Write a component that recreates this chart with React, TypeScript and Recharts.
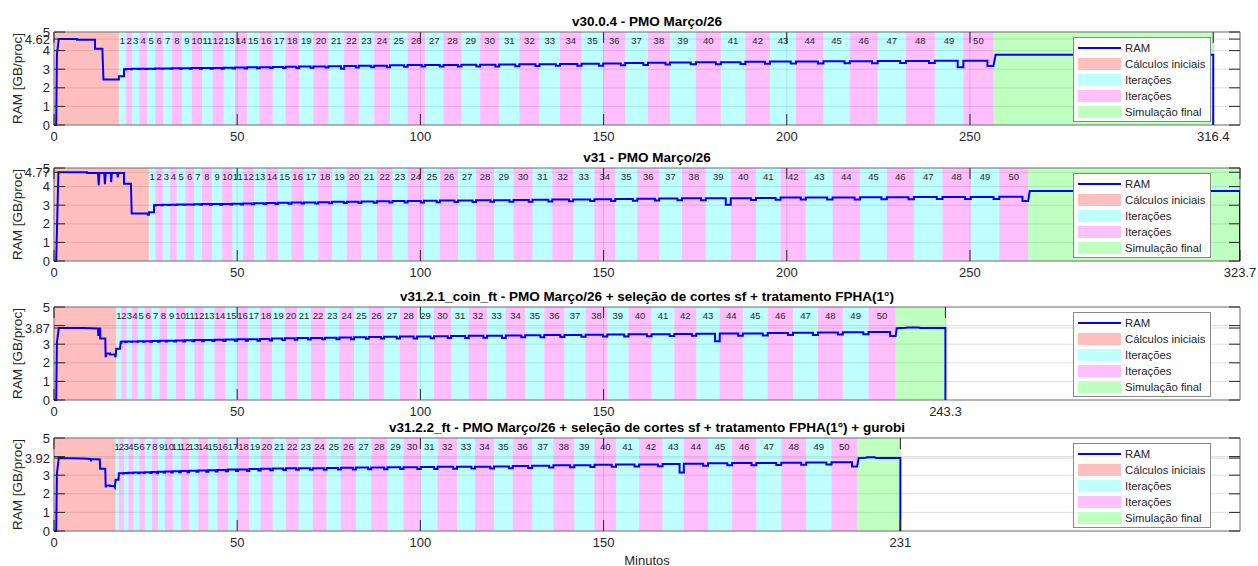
import React from 'react';
import { ComposedChart, Line, XAxis, YAxis, CartesianGrid, ReferenceArea, Legend } from 'recharts';

const FONT = '"Liberation Sans", Arial, sans-serif';
const INK = '#262626';
const X_MAX = 323.7;

// chart-space geometry of the plot box (same for every panel)
const PLOT_L = 54;
const PLOT_R = 1240;
const PLOT_T = 30;
const PLOT_B = 123;
const TICK = 11;
const DIP_FRAC = 0.2;

// ---- v30.0.4 ----
const p1Title = 'v30.0.4 - PMO Março/26';
const p1Start: [number, number][] = [
  [0, 0], [0.6, 0], [0.8, 3.8], [1.3, 4.62], [6.3, 4.62], [6.3, 4.58], [11.2, 4.58], [11.2, 4.1],
  [13.2, 4.1], [13.5, 2.45], [17.7, 2.45], [17.7, 2.62], [19.1, 2.62], [19.1, 3.0],
];
const p1Bounds = [
  17.7, 19.7, 21.3, 23.3, 25.4, 27.6, 29.8, 32.2, 34.9, 37.6, 40.4, 43.3, 46.3, 49.4, 52.7, 56.1, 59.7,
  63.2, 66.9, 70.8, 74.9, 79.2, 83.2, 87.4, 91.7, 96.5, 101.3, 106.3, 111.2, 116.3, 121.5, 127.0, 132.5,
  138.1, 144.0, 149.9, 155.9, 162.1, 168.1, 175.2, 182.0, 188.7, 195.4, 202.5, 210.0, 217.2, 224.8,
  232.5, 240.4, 248.2, 256.4,
];
const p1Levels = [
  3.00, 3.01, 3.02, 3.03, 3.03, 3.04, 3.04, 3.05, 3.05, 3.06,
  3.06, 3.07, 3.08, 3.09, 3.10, 3.11, 3.12, 3.13, 3.14, 3.15,
  3.16, 3.17, 3.18, 3.19, 3.21, 3.22, 3.23, 3.23, 3.24, 3.24,
  3.25, 3.26, 3.27, 3.28, 3.29, 3.31, 3.33, 3.35, 3.36, 3.37,
  3.38, 3.40, 3.41, 3.42, 3.43, 3.43, 3.44, 3.44, 3.45, 3.45,
];
const p1Dips = [
  0.01, 0.01, 0.01, 0.02, 0.02, 0.02, 0.02, 0.03, 0.03, 0.03,
  0.03, 0.04, 0.04, 0.05, 0.05, 0.05, 0.05, 0.06, 0.06, 0.06,
  0.14, 0.08, 0.07, 0.08, 0.08, 0.08, 0.08, 0.08, 0.09, 0.09,
  0.09, 0.09, 0.09, 0.10, 0.10, 0.10, 0.10, 0.10, 0.10, 0.10,
  0.10, 0.11, 0.11, 0.11, 0.11, 0.11, 0.11, 0.11, 0.35, 0.28,
];
const p1Final: [number, number][] = [[257.0, 3.78], [316.4, 3.78], [316.4, 0]];
const p1End = 316.4;
const p1Peak = 4.62;
const p1XTicks = [0, 50, 100, 150, 200, 250, 316.4];

// ---- v31 ----
const p2Title = 'v31 - PMO Março/26';
const p2Start: [number, number][] = [
  [0, 0], [0.6, 0], [1.2, 4.77], [9, 4.77], [9, 4.73], [12.0, 4.73], [12.2, 4.06], [12.4, 4.73],
  [13.7, 4.73], [13.9, 4.13], [14.1, 4.73], [15.5, 4.73], [15.6, 4.24], [15.8, 4.73], [17.3, 4.73],
  [17.4, 4.5], [17.6, 4.73], [19.1, 4.73], [19.1, 4.15], [21.0, 4.15], [21.2, 2.55], [25.5, 2.55],
  [25.6, 2.48], [25.9, 2.48], [25.9, 2.62], [27.3, 2.62], [27.3, 3.0],
];
const p2Bounds = [
  25.9, 27.7, 29.7, 31.7, 33.5, 35.9, 38.2, 40.4, 43.1, 45.9, 48.7, 51.6, 54.6, 57.9, 61.1, 64.8, 68.2,
  72.1, 75.9, 79.9, 83.9, 88.1, 92.4, 96.5, 101.0, 105.3, 110.3, 115.2, 120.1, 125.4, 130.6, 136.0,
  141.7, 147.5, 153.2, 159.2, 165.2, 171.4, 177.9, 184.7, 191.6, 198.3, 205.2, 212.5, 220.0, 227.3,
  234.7, 242.5, 250.2, 258.0, 265.9,
];
const p2Levels = [
  3.00, 3.01, 3.02, 3.03, 3.04, 3.04, 3.05, 3.06, 3.06, 3.07,
  3.08, 3.09, 3.10, 3.12, 3.13, 3.14, 3.15, 3.16, 3.18, 3.19,
  3.20, 3.21, 3.22, 3.23, 3.24, 3.25, 3.25, 3.26, 3.27, 3.28,
  3.29, 3.30, 3.31, 3.32, 3.34, 3.35, 3.36, 3.37, 3.38, 3.38,
  3.39, 3.41, 3.42, 3.42, 3.43, 3.43, 3.44, 3.44, 3.44, 3.45,
];
const p2Dips = [
  0.01, 0.01, 0.01, 0.02, 0.02, 0.02, 0.02, 0.03, 0.03, 0.03,
  0.04, 0.04, 0.04, 0.05, 0.05, 0.05, 0.06, 0.06, 0.06, 0.07,
  0.07, 0.07, 0.08, 0.08, 0.08, 0.08, 0.08, 0.08, 0.09, 0.09,
  0.09, 0.09, 0.09, 0.10, 0.10, 0.10, 0.10, 0.10, 0.35, 0.10,
  0.10, 0.11, 0.11, 0.11, 0.11, 0.11, 0.11, 0.11, 0.11, 0.22,
];
const p2Final: [number, number][] = [[266.3, 3.77], [323.7, 3.77], [323.7, 0]];
const p2End = 323.7;
const p2Peak = 4.77;
const p2XTicks = [0, 50, 100, 150, 200, 250, 323.7];

// ---- v31.2.1 ----
const p3Title = 'v31.2.1_coin_ft - PMO Março/26 + seleção de cortes sf + tratamento FPHA(1°)';
const p3Start: [number, number][] = [
  [0, 0], [0.6, 0], [0.8, 3.1], [1.3, 3.87], [8, 3.87], [12.0, 3.84], [12.1, 3.45], [12.3, 3.84],
  [12.6, 3.84], [12.6, 3.3], [14.0, 3.3], [14.1, 2.3], [14.3, 2.5], [15.3, 2.5], [15.3, 2.45],
  [16.6, 2.45], [16.8, 2.3], [17.0, 2.75], [18.0, 2.75], [18.2, 3.1],
];
const p3Bounds = [
  17.0, 18.4, 19.8, 21.3, 22.9, 24.7, 26.7, 28.8, 30.9, 33.3, 35.8, 38.3, 40.9, 43.8, 46.8, 50.0, 52.9,
  56.2, 59.5, 63.0, 66.4, 70.1, 74.0, 77.9, 81.9, 85.9, 90.1, 94.4, 99.1, 103.7, 108.4, 113.2, 118.2,
  123.3, 128.6, 133.8, 139.3, 145.1, 151.0, 156.8, 163.1, 169.3, 175.3, 181.7, 188.0, 194.8, 201.7,
  208.5, 215.3, 222.3, 229.7,
];
const p3Levels = [
  3.10, 3.14, 3.15, 3.15, 3.16, 3.16, 3.17, 3.18, 3.19, 3.20,
  3.21, 3.22, 3.23, 3.24, 3.25, 3.26, 3.27, 3.28, 3.30, 3.32,
  3.33, 3.34, 3.35, 3.36, 3.38, 3.39, 3.40, 3.41, 3.42, 3.43,
  3.44, 3.45, 3.46, 3.47, 3.48, 3.49, 3.50, 3.51, 3.52, 3.53,
  3.54, 3.55, 3.56, 3.57, 3.58, 3.60, 3.61, 3.63, 3.64, 3.66,
];
const p3Dips = [
  0.01, 0.02, 0.02, 0.02, 0.03, 0.03, 0.04, 0.04, 0.05, 0.05,
  0.05, 0.06, 0.06, 0.07, 0.07, 0.07, 0.08, 0.08, 0.08, 0.08,
  0.08, 0.08, 0.09, 0.09, 0.09, 0.09, 0.09, 0.10, 0.10, 0.10,
  0.10, 0.10, 0.12, 0.10, 0.10, 0.10, 0.10, 0.10, 0.10, 0.10,
  0.10, 0.10, 0.40, 0.11, 0.11, 0.11, 0.11, 0.11, 0.11, 0.22,
];
const p3Final: [number, number][] = [
  [230.0, 3.86], [232.5, 3.88], [233.0, 3.9], [236.0, 3.9], [236.5, 3.87], [243.3, 3.87], [243.3, 0],
];
const p3End = 243.3;
const p3Peak = 3.87;
const p3XTicks = [0, 50, 100, 150, 243.3];

// ---- v31.2.2 ----
const p4Title = 'v31.2.2_ft - PMO Março/26 + seleção de cortes sf + tratamento FPHA(1°) + gurobi';
const p4Start: [number, number][] = [
  [0, 0], [0.6, 0], [0.8, 3.1], [1.3, 3.92], [8, 3.9], [10.0, 3.87], [10.1, 3.75], [10.3, 3.87],
  [12.5, 3.85], [12.6, 3.35], [14.0, 3.35], [14.1, 2.35], [14.3, 2.45], [15.3, 2.45], [15.3, 2.42],
  [16.4, 2.42], [16.6, 2.35], [16.8, 2.75], [17.6, 2.75], [17.7, 3.05],
];
const p4Bounds = [
  16.8, 17.7, 19.1, 20.3, 21.7, 23.3, 24.8, 26.7, 28.4, 30.3, 32.4, 34.6, 36.9, 39.4, 42.1, 44.6, 47.5,
  50.2, 53.3, 56.4, 59.7, 63.3, 66.8, 70.6, 74.4, 78.3, 82.4, 86.6, 91.0, 95.4, 100.1, 104.7, 110.0,
  114.9, 120.1, 125.2, 130.5, 136.3, 142.0, 147.5, 153.4, 159.7, 166.1, 171.9, 178.5, 185.1, 191.7,
  198.5, 205.3, 212.2, 219.2,
];
const p4Levels = [
  3.05, 3.11, 3.12, 3.13, 3.14, 3.15, 3.16, 3.17, 3.19, 3.20,
  3.21, 3.22, 3.24, 3.25, 3.27, 3.28, 3.30, 3.31, 3.33, 3.35,
  3.36, 3.37, 3.38, 3.38, 3.39, 3.40, 3.41, 3.42, 3.43, 3.43,
  3.44, 3.45, 3.46, 3.46, 3.47, 3.49, 3.51, 3.53, 3.54, 3.56,
  3.57, 3.58, 3.60, 3.62, 3.64, 3.65, 3.66, 3.67, 3.68, 3.69,
];
const p4Dips = [
  0.01, 0.02, 0.02, 0.02, 0.03, 0.03, 0.04, 0.07, 0.05, 0.05,
  0.05, 0.06, 0.06, 0.07, 0.07, 0.07, 0.08, 0.08, 0.08, 0.08,
  0.08, 0.08, 0.09, 0.09, 0.09, 0.09, 0.09, 0.10, 0.10, 0.10,
  0.10, 0.10, 0.10, 0.10, 0.10, 0.10, 0.10, 0.10, 0.10, 0.10,
  0.10, 0.10, 0.45, 0.11, 0.11, 0.11, 0.11, 0.11, 0.11, 0.22,
];
const p4Final: [number, number][] = [
  [219.6, 3.92], [221.5, 3.94], [222.0, 3.96], [224.0, 3.96], [224.5, 3.92], [231.0, 3.92], [231.0, 0],
];
const p4End = 231;
const p4Peak = 3.92;
const p4XTicks = [0, 50, 100, 150, 231];

const legendItems = [
  { label: 'RAM', color: '#0000ff', line: true },
  { label: 'Cálculos iniciais', color: '#ffbfbf' },
  { label: 'Iterações', color: '#bfffff' },
  { label: 'Iterações', color: '#ffbfff' },
  { label: 'Simulação final', color: '#bfffbf' },
];

interface PanelDef {
  title: string;
  start: [number, number][];
  bounds: number[];
  levels: number[];
  dips: number[];
  final: [number, number][];
  end: number;
  peak: number;
  xTicks: number[];
  top: number;
}

const panels: PanelDef[] = [
  { title: p1Title, start: p1Start, bounds: p1Bounds, levels: p1Levels, dips: p1Dips, final: p1Final, end: p1End, peak: p1Peak, xTicks: p1XTicks, top: 2 },
  { title: p2Title, start: p2Start, bounds: p2Bounds, levels: p2Levels, dips: p2Dips, final: p2Final, end: p2End, peak: p2Peak, xTicks: p2XTicks, top: 138 },
  { title: p3Title, start: p3Start, bounds: p3Bounds, levels: p3Levels, dips: p3Dips, final: p3Final, end: p3End, peak: p3Peak, xTicks: p3XTicks, top: 277 },
  { title: p4Title, start: p4Start, bounds: p4Bounds, levels: p4Levels, dips: p4Dips, final: p4Final, end: p4End, peak: p4Peak, xTicks: p4XTicks, top: 408 },
];

// step trace: level for each iteration with a short dip before its end
function buildRam(p: PanelDef) {
  const pts = p.start.map(([t, v]) => ({ t, v }));
  const push = (t: number, v: number) => {
    if (t >= pts[pts.length - 1].t) pts.push({ t, v });
  };
  p.levels.forEach((lv, i) => {
    const a = p.bounds[i];
    const b = p.bounds[i + 1];
    const d = b - (b - a) * DIP_FRAC;
    push(a, lv);
    push(d, lv);
    push(d, lv - p.dips[i]);
    push(b, lv - p.dips[i]);
  });
  p.final.forEach(([t, v]) => push(t, v));
  return pts;
}

const XTick = (props: any) => {
  const { x, payload } = props;
  return (
    <g>
      <line x1={x} x2={x} y1={PLOT_B} y2={PLOT_B - TICK} stroke={INK} />
      <line x1={x} x2={x} y1={PLOT_T} y2={PLOT_T + TICK} stroke={INK} />
      <text x={x} y={PLOT_B + 16} textAnchor="middle" fontSize={13} fontFamily={FONT} fill={INK}>
        {String(payload.value)}
      </text>
    </g>
  );
};

// the integer label right next to the peak value is left out, as in the source figure
const YTick = (props: any) => {
  const { y, payload, peak } = props;
  const v = payload.value;
  const hidden = v !== peak && v < 5 && Math.abs(v - peak) < 0.2;
  return (
    <g>
      <line x1={PLOT_L} x2={PLOT_L + TICK} y1={y} y2={y} stroke={INK} />
      <line x1={PLOT_R - TICK} x2={PLOT_R} y1={y} y2={y} stroke={INK} />
      {!hidden && (
        <text x={PLOT_L - 4} y={y + 4.5} textAnchor="end" fontSize={13} fontFamily={FONT} fill={INK}>
          {String(v)}
        </text>
      )}
    </g>
  );
};

const LegendBox = () => (
  <div
    style={{
      boxSizing: 'border-box', width: 138, height: 85, border: '1px solid #8a8a8a', background: '#fff',
      padding: '2px 0 0 4px', fontFamily: FONT, fontSize: 11.3, color: INK, lineHeight: '16px',
    }}
  >
    {legendItems.map((it, i) => (
      <div key={i} style={{ display: 'flex', alignItems: 'center', height: 16 }}>
        <div style={{ width: 43, height: it.line ? 2 : 12, background: it.color }} />
        <span style={{ marginLeft: 4, whiteSpace: 'nowrap' }}>{it.label}</span>
      </div>
    ))}
  </div>
);

function RamPanel({ p, last }: { p: PanelDef; last: boolean }) {
  const data = buildRam(p);
  const yTicks = [0, 1, 2, 3, 4, p.peak, 5].sort((a, b) => a - b);
  const iters = p.levels.map((_, i) => ({ k: i + 1, x1: p.bounds[i], x2: p.bounds[i + 1] }));
  const bottom = last ? 28 : 6;

  return (
    <div style={{ position: 'absolute', left: 0, top: p.top }}>
      <ComposedChart
        width={1258}
        height={PLOT_B + 17 + bottom}
        data={data}
        margin={{ top: PLOT_T, right: 1258 - PLOT_R, bottom, left: 20 }}
      >
        <CartesianGrid stroke={INK} strokeOpacity={0.15} />
        <ReferenceArea x1={0} x2={p.bounds[0]} y1={0} y2={5} fill="#ff0000" fillOpacity={0.25} stroke="none" />
        {iters.map((it) => (
          <ReferenceArea
            key={it.k}
            x1={it.x1}
            x2={it.x2}
            y1={0}
            y2={5}
            fill={it.k % 2 ? '#00ffff' : '#ff00ff'}
            fillOpacity={0.25}
            stroke="none"
            label={{ value: String(it.k), position: 'insideTop', fontSize: 9.5, fill: INK, fontFamily: FONT }}
          />
        ))}
        <ReferenceArea x1={p.bounds[50]} x2={p.end} y1={0} y2={5} fill="#00ff00" fillOpacity={0.25} stroke="none" />
        <ReferenceArea x1={0} x2={X_MAX} y1={0} y2={5} fill="none" stroke="#7a7a7a" />
        <XAxis
          dataKey="t"
          type="number"
          domain={[0, X_MAX]}
          ticks={p.xTicks}
          interval={0}
          allowDataOverflow
          height={17}
          axisLine={false}
          tickLine={false}
          tick={(props: any) => <XTick {...props} />}
          label={
            last
              ? {
                  value: 'Minutos',
                  content: () => (
                    <text x={(PLOT_L + PLOT_R) / 2} y={PLOT_B + 34} textAnchor="middle" fontSize={13} fontFamily={FONT} fill={INK}>
                      Minutos
                    </text>
                  ),
                }
              : undefined
          }
        />
        <YAxis
          type="number"
          domain={[0, 5]}
          ticks={yTicks}
          interval={0}
          width={PLOT_L - 20}
          axisLine={false}
          tickLine={false}
          tick={(props: any) => <YTick {...props} peak={p.peak} />}
          label={{
            value: 'RAM [GB/proc]',
            content: () => (
              <text
                transform={`translate(17, ${(PLOT_T + PLOT_B) / 2}) rotate(-90)`}
                textAnchor="middle"
                dy={4.5}
                fontSize={13.5}
                fontFamily={FONT}
                fill={INK}
              >
                RAM [GB/proc]
              </text>
            ),
          }}
        />
        <Line
          dataKey="v"
          type="linear"
          stroke="#0000ff"
          strokeWidth={2}
          dot={false}
          isAnimationActive={false}
        />
        <Legend
          layout="horizontal"
          verticalAlign="middle"
          align="center"
          width={138}
          height={85}
          content={() => <LegendBox />}
          wrapperStyle={{ left: 1073, top: PLOT_T + 5, width: 138, height: 85 }}
        />
      </ComposedChart>
      <div
        style={{
          position: 'absolute', left: PLOT_L, width: PLOT_R - PLOT_L, top: PLOT_T - 18, lineHeight: '16px',
          textAlign: 'center', fontWeight: 'bold', fontSize: 13.5, fontFamily: FONT, color: '#000',
        }}
      >
        {p.title}
      </div>
    </div>
  );
}

export default function App() {
  return (
    <div style={{ position: 'absolute', left: 0, top: 0, width: 1258, height: 566, background: '#fff', fontFamily: FONT }}>
      {panels.map((p, i) => (
        <RamPanel key={i} p={p} last={i === panels.length - 1} />
      ))}
    </div>
  );
}
